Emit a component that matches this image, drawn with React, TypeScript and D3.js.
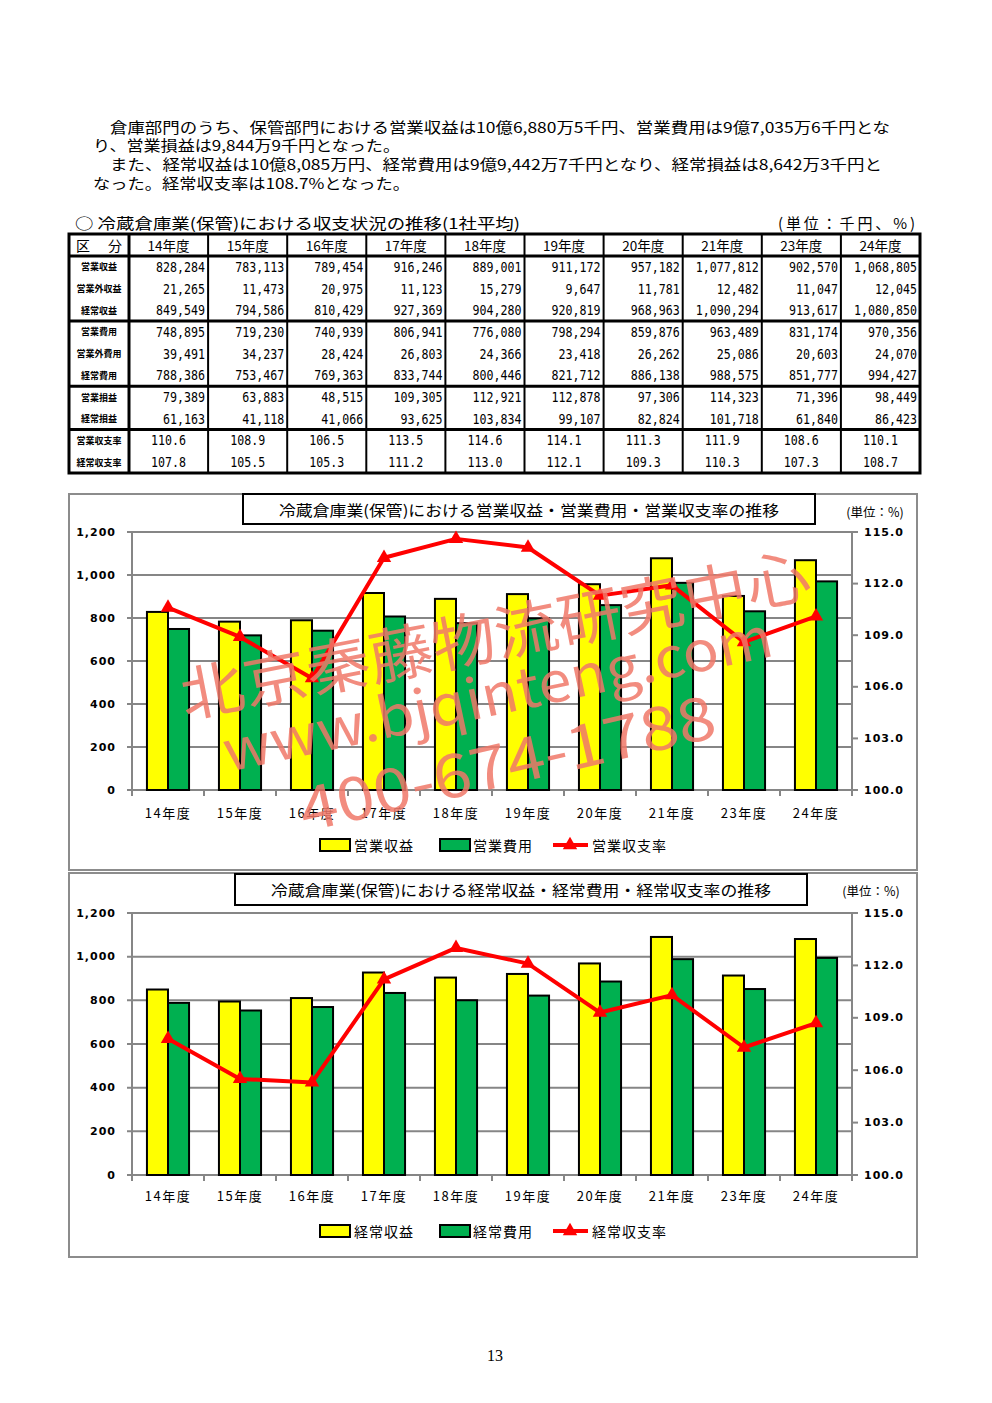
import * as React from "react";
import * as d3 from "d3";

const years = ["14年度", "15年度", "16年度", "17年度", "18年度", "19年度", "20年度", "21年度", "23年度", "24年度"];
const opRevenue = [828284, 783113, 789454, 916246, 889001, 911172, 957182, 1077812, 902570, 1068805];
const nonOpRevenue = [21265, 11473, 20975, 11123, 15279, 9647, 11781, 12482, 11047, 12045];
const ordRevenue = [849549, 794586, 810429, 927369, 904280, 920819, 968963, 1090294, 913617, 1080850];
const opCost = [748895, 719230, 740939, 806941, 776080, 798294, 859876, 963489, 831174, 970356];
const nonOpCost = [39491, 34237, 28424, 26803, 24366, 23418, 26262, 25086, 20603, 24070];
const ordCost = [788386, 753467, 769363, 833744, 800446, 821712, 886138, 988575, 851777, 994427];
const opProfit = [79389, 63883, 48515, 109305, 112921, 112878, 97306, 114323, 71396, 98449];
const ordProfit = [61163, 41118, 41066, 93625, 103834, 99107, 82824, 101718, 61840, 86423];
const opRatio = [110.6, 108.9, 106.5, 113.5, 114.6, 114.1, 111.3, 111.9, 108.6, 110.1];
const ordRatio = [107.8, 105.5, 105.3, 111.2, 113.0, 112.1, 109.3, 110.3, 107.3, 108.7];

const leftTicks = [0, 200, 400, 600, 800, 1000, 1200];
const rightTicks = [100, 103, 106, 109, 112, 115];

const paragraph = [
  "倉庫部門のうち、保管部門における営業収益は10億6,880万5千円、営業費用は9億7,035万6千円とな",
  "り、営業損益は9,844万9千円となった。",
  "また、経常収益は10億8,085万円、経常費用は9億9,442万7千円となり、経常損益は8,642万3千円と",
  "なった。経常収支率は108.7%となった。",
];

const JP = "'Noto Sans CJK JP', sans-serif";
const NUM = "'DejaVu Sans', sans-serif";
const MONO = "'DejaVu Sans Mono', 'Liberation Mono', monospace";

const fmtInt = d3.format(",");
const fmtRatio = d3.format(".1f");

const tableRows = [
  { label: "営業収益", values: opRevenue, ratio: false },
  { label: "営業外収益", values: nonOpRevenue, ratio: false },
  { label: "経常収益", values: ordRevenue, ratio: false },
  { label: "営業費用", values: opCost, ratio: false },
  { label: "営業外費用", values: nonOpCost, ratio: false },
  { label: "経常費用", values: ordCost, ratio: false },
  { label: "営業損益", values: opProfit, ratio: false },
  { label: "経常損益", values: ordProfit, ratio: false },
  { label: "営業収支率", values: opRatio, ratio: true },
  { label: "経常収支率", values: ordRatio, ratio: true },
];

const Table = () => {
  const left = 69;
  const right = 920;
  const top = 234;
  const headH = 22;
  const rowH = 21.7;
  const bottom = top + headH + rowH * tableRows.length;
  const col = d3.scaleBand<string>().domain(years).range([129, right]);
  const groupBreaks = [3, 6, 8];

  return (
    <g>
      <text x={75} y={222} fontFamily={JP} fontSize={15} dominantBaseline="central" textLength={445} lengthAdjust="spacingAndGlyphs">
        ○ 冷蔵倉庫業(保管)における収支状況の推移(1社平均)
      </text>
      <text x={778} y={222} fontFamily={JP} fontSize={15} dominantBaseline="central" textLength={137} lengthAdjust="spacing">
        (単位：千円、%)
      </text>
      {/* header */}
      <text x={83} y={top + headH / 2} fontFamily={JP} fontSize={14} dominantBaseline="central" textAnchor="middle">区</text>
      <text x={115} y={top + headH / 2} fontFamily={JP} fontSize={14} dominantBaseline="central" textAnchor="middle">分</text>
      {years.map((yr) => (
        <text key={yr} x={(col(yr) as number) + col.bandwidth() / 2} y={top + headH / 2} fontFamily={JP} fontSize={13.5} dominantBaseline="central" textAnchor="middle">
          {yr}
        </text>
      ))}
      {tableRows.map((r, i) => {
        const cy = top + headH + rowH * i + rowH / 2;
        return (
          <g key={r.label}>
            <text x={99} y={cy} fontFamily={JP} fontSize={9} fontWeight={700} dominantBaseline="central" textAnchor="middle">
              {r.label}
            </text>
            {r.values.map((v, j) => {
              const x0 = col(years[j]) as number;
              const s = r.ratio ? fmtRatio(v) : fmtInt(v);
              return r.ratio ? (
                <text key={j} x={x0 + col.bandwidth() / 2} y={cy} fontFamily={MONO} fontSize={14.5} dominantBaseline="central" textAnchor="middle" textLength={s.length * 7} lengthAdjust="spacingAndGlyphs">
                  {s}
                </text>
              ) : (
                <text key={j} x={x0 + col.bandwidth() - 3} y={cy} fontFamily={MONO} fontSize={14.5} dominantBaseline="central" textAnchor="end" textLength={s.length * 7} lengthAdjust="spacingAndGlyphs">
                  {s}
                </text>
              );
            })}
          </g>
        );
      })}
      {/* grid */}
      {years.slice(1).map((yr) => (
        <line key={yr} x1={col(yr)} x2={col(yr)} y1={top} y2={bottom} stroke="#000" strokeWidth={2} />
      ))}
      <line x1={129} x2={129} y1={top} y2={bottom} stroke="#000" strokeWidth={3} />
      <line x1={left} x2={right} y1={top + headH} y2={top + headH} stroke="#000" strokeWidth={3} />
      {groupBreaks.map((b) => (
        <line key={b} x1={left} x2={right} y1={top + headH + rowH * b} y2={top + headH + rowH * b} stroke="#000" strokeWidth={3} />
      ))}
      <rect x={left} y={top} width={right - left} height={bottom - top} fill="none" stroke="#000" strokeWidth={3} />
    </g>
  );
};

interface ChartProps {
  frameTop: number;
  frameBottom: number;
  plotTop: number;
  plotBottom: number;
  boxX: [number, number];
  boxY: [number, number];
  title: string;
  unitY: number;
  unitX: number;
  xLabelY: number;
  legendY: number;
  revenue: number[];
  cost: number[];
  ratio: number[];
  names: [string, string, string];
}

const Chart = (p: ChartProps) => {
  const left = 132;
  const right = 852;
  const x = d3.scaleBand<string>().domain(years).range([left, right]);
  const inner = d3.scaleBand<string>().domain(["a", "b"]).range([0, x.bandwidth()]).paddingInner(0).paddingOuter(0.71);
  const y = d3.scaleLinear().domain([0, 1200]).range([p.plotBottom, p.plotTop]);
  const y2 = d3.scaleLinear().domain([100, 115]).range([p.plotBottom, p.plotTop]);
  const line = d3
    .line<number>()
    .x((_, i) => (x(years[i]) as number) + x.bandwidth() / 2)
    .y((d) => y2(d));
  const tri = d3.symbol().type(d3.symbolTriangle).size(90)();
  const grey = "#868686";

  return (
    <g>
      <rect x={69} y={p.frameTop} width={848} height={p.frameBottom - p.frameTop} fill="#fff" stroke="#8c8c8c" strokeWidth={2} />
      {/* gridlines */}
      {leftTicks.map((t) => (
        <g key={t}>
          <line x1={left - 5} x2={t === 0 ? right + 5 : right} y1={y(t)} y2={y(t)} stroke={grey} strokeWidth={2} />
          <text x={116} y={y(t)} fontFamily={NUM} fontSize={11} fontWeight={700} letterSpacing={1} textAnchor="end" dominantBaseline="central">
            {fmtInt(t)}
          </text>
        </g>
      ))}
      <line x1={left} x2={left} y1={p.plotTop} y2={p.plotBottom} stroke={grey} strokeWidth={2} />
      <line x1={right} x2={right} y1={p.plotTop} y2={p.plotBottom} stroke={grey} strokeWidth={2} />
      {rightTicks.map((t) => (
        <g key={t}>
          <line x1={right} x2={right + 6} y1={y2(t)} y2={y2(t)} stroke={grey} strokeWidth={2} />
          <text x={864} y={y2(t)} fontFamily={NUM} fontSize={11} fontWeight={700} letterSpacing={1} dominantBaseline="central">
            {fmtRatio(t)}
          </text>
        </g>
      ))}
      {years.map((yr) => (
        <line key={yr} x1={x(yr)} x2={x(yr)} y1={p.plotBottom} y2={p.plotBottom + 6} stroke={grey} strokeWidth={2} />
      ))}
      <line x1={right} x2={right} y1={p.plotBottom} y2={p.plotBottom + 6} stroke={grey} strokeWidth={2} />
      {/* bars */}
      {years.map((yr, i) => {
        const x0 = x(yr) as number;
        const vr = p.revenue[i] / 1000;
        const vc = p.cost[i] / 1000;
        return (
          <g key={yr}>
            <rect x={x0 + (inner("a") as number)} y={y(vr)} width={inner.bandwidth()} height={y(0) - y(vr)} fill="#ffff00" stroke="#000" strokeWidth={2} />
            <rect x={x0 + (inner("b") as number)} y={y(vc)} width={inner.bandwidth()} height={y(0) - y(vc)} fill="#00b050" stroke="#000" strokeWidth={2} />
          </g>
        );
      })}
      {/* ratio line */}
      <path d={line(p.ratio) || ""} fill="none" stroke="#ff0000" strokeWidth={4} strokeLinejoin="round" />
      {p.ratio.map((v, i) => (
        <path key={i} d={tri || ""} transform={`translate(${(x(years[i]) as number) + x.bandwidth() / 2},${y2(v)})`} fill="#ff0000" />
      ))}
      {/* x labels */}
      {years.map((yr) => (
        <text key={yr} x={(x(yr) as number) + x.bandwidth() / 2} y={p.xLabelY} fontFamily={JP} fontSize={13} letterSpacing={1.5} textAnchor="middle" dominantBaseline="central">
          {yr}
        </text>
      ))}
      {/* title */}
      <rect x={p.boxX[0]} y={p.boxY[0]} width={p.boxX[1] - p.boxX[0]} height={p.boxY[1] - p.boxY[0]} fill="#fff" stroke="#000" strokeWidth={2} />
      <text x={(p.boxX[0] + p.boxX[1]) / 2} y={(p.boxY[0] + p.boxY[1]) / 2} fontFamily={JP} fontSize={15} textAnchor="middle" dominantBaseline="central" textLength={500} lengthAdjust="spacingAndGlyphs">
        {p.title}
      </text>
      <text x={p.unitX} y={p.unitY} fontFamily={JP} fontSize={12.5} textAnchor="middle" dominantBaseline="central">
        (単位：%)
      </text>
      {/* legend */}
      <rect x={320} y={p.legendY - 6} width={30} height={12} fill="#ffff00" stroke="#000" strokeWidth={2} />
      <text x={354} y={p.legendY} fontFamily={JP} fontSize={14} letterSpacing={1} dominantBaseline="central">{p.names[0]}</text>
      <rect x={440} y={p.legendY - 6} width={30} height={12} fill="#00b050" stroke="#000" strokeWidth={2} />
      <text x={473} y={p.legendY} fontFamily={JP} fontSize={14} letterSpacing={1} dominantBaseline="central">{p.names[1]}</text>
      <line x1={553} x2={588} y1={p.legendY} y2={p.legendY} stroke="#ff0000" strokeWidth={4} />
      <path d={tri || ""} transform={`translate(570,${p.legendY})`} fill="#ff0000" />
      <text x={592} y={p.legendY} fontFamily={JP} fontSize={14} letterSpacing={1} dominantBaseline="central">{p.names[2]}</text>
    </g>
  );
};

const Watermark = () => {
  const c = "#f07868";
  return (
    <g fill={c} fillOpacity={0.85} fontFamily={JP} style={{ pointerEvents: "none" }}>
      <text transform="translate(185,718) rotate(-11)" fontSize={60} textLength={640} lengthAdjust="spacingAndGlyphs">北京秦藤物流研究中心</text>
      <text transform="translate(228,772) rotate(-12)" fontSize={56} textLength={560} lengthAdjust="spacingAndGlyphs">www.bjqinteng.com</text>
      <text transform="translate(305,832) rotate(-13)" fontSize={60} textLength={425} lengthAdjust="spacingAndGlyphs">400-674-1788</text>
    </g>
  );
};

export default function App() {
  const paraX = [110, 93, 110, 93];
  const paraW = [780, 307, 772, 317];
  const paraY = [126, 144, 163, 182];
  return (
    <svg width={992} height={1403} style={{ position: "absolute", left: 0, top: 0, background: "#fff" }}>
      <rect width={992} height={1403} fill="#fff" />
      {paragraph.map((t, i) => (
        <text key={i} x={paraX[i]} y={paraY[i]} fontFamily={JP} fontSize={14.5} fontWeight={400} dominantBaseline="central" textLength={paraW[i]} lengthAdjust="spacingAndGlyphs">
          {t}
        </text>
      ))}
      <Table />
      <Chart
        frameTop={494}
        frameBottom={870}
        plotTop={532}
        plotBottom={790}
        boxX={[243, 815]}
        boxY={[494, 524]}
        title="冷蔵倉庫業(保管)における営業収益・営業費用・営業収支率の推移"
        unitX={875}
        unitY={511}
        xLabelY={812}
        legendY={845}
        revenue={opRevenue}
        cost={opCost}
        ratio={opRatio}
        names={["営業収益", "営業費用", "営業収支率"]}
      />
      <Chart
        frameTop={873}
        frameBottom={1257}
        plotTop={913}
        plotBottom={1175}
        boxX={[235, 807]}
        boxY={[874, 905]}
        title="冷蔵倉庫業(保管)における経常収益・経常費用・経常収支率の推移"
        unitX={871}
        unitY={890}
        xLabelY={1195}
        legendY={1231}
        revenue={ordRevenue}
        cost={ordCost}
        ratio={ordRatio}
        names={["経常収益", "経常費用", "経常収支率"]}
      />
      <Watermark />
      <text x={495} y={1355} fontFamily="'Liberation Serif', serif" fontSize={16} textAnchor="middle" dominantBaseline="central">13</text>
    </svg>
  );
}
